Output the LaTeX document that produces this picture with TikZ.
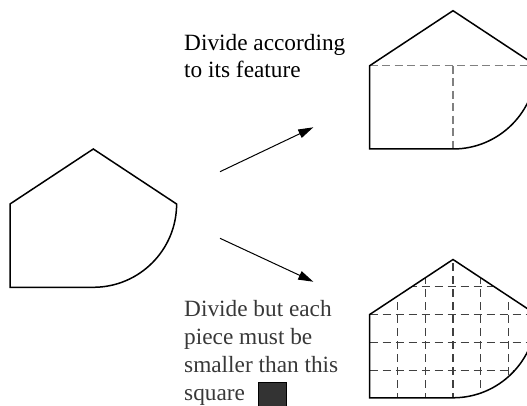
\documentclass[tikz,border=0pt]{standalone}
\usepackage{fontspec}
\setmainfont{Liberation Serif}
\usetikzlibrary{arrows.meta}
\begin{document}
\begin{tikzpicture}[x=1pt,y=-1pt,
  outline/.style={line width=1.5pt, line join=miter},
  featdash/.style={black!50, line width=1.2pt, dash pattern=on 8pt off 4.5pt},
  griddash/.style={black!75, line width=1.2pt, dash pattern=on 8pt off 5pt},
  arr/.style={line width=1pt, -{Triangle[length=15pt,width=9pt]}},
  lbl/.style={inner sep=0pt, align=left, anchor=base west},
  bigfont/.style={font=\fontsize{23.3}{26.5}\selectfont},
  smallfont/.style={font=\fontsize{23.3}{28}\selectfont, text=black!78}]
\clip (0,0) rectangle (527,406);
% original shape
\draw[outline] (10,204) -- (93.3,149) -- (176.6,204)
  .. controls (176.6,250) and (139.3,287.3) .. (93.3,287.3) -- (10,287.3) -- cycle;
% top right: divided by feature
\draw[featdash] (369.7,65.7) -- (536.3,65.7);
\draw[featdash] (453,65.7) -- (453,149);
\draw[outline] (369.7,65.7) -- (453,10.7) -- (536.3,65.7)
  .. controls (536.3,111.7) and (499,149) .. (453,149) -- (369.7,149) -- cycle;
% bottom right: grid division
\begin{scope}
  \clip (369.7,314.5) -- (453,259.5) -- (536.3,314.5)
    .. controls (536.3,360.5) and (499,397.8) .. (453,397.8) -- (369.7,397.8) -- cycle;
  \foreach \gx in {397.5,425.2,453,480.8,508.5}
    \draw[griddash] (\gx,250) -- (\gx,400);
  \foreach \gy in {286.7,314.5,342.3,370.1}
    \draw[griddash] (369.7,\gy) -- (540,\gy);
\end{scope}
\draw[outline] (369.7,314.5) -- (453,259.5) -- (536.3,314.5)
  .. controls (536.3,360.5) and (499,397.8) .. (453,397.8) -- (369.7,397.8) -- cycle;
% arrows
\coordinate (a1s) at (220,171.7);
\coordinate (a1e) at (313.3,127.3);
\coordinate (a2s) at (220,238.3);
\coordinate (a2e) at (313.3,281.7);
\draw[arr] (a1s) -- (a1e);
\draw[arr] (a2s) -- (a2e);
% texts
\node[lbl, bigfont] (t1) at (184,77.5) {Divide according\\to its feature};
\node[lbl, smallfont] (t2) at (184,400.5) {Divide but each\\piece must be\\smaller than this\\square};
\node[draw=black, line width=1pt, fill=black!80, minimum size=27.7pt, inner sep=0pt, anchor=north west] (sq) at (258.3,381.7) {};
\end{tikzpicture}
\end{document}
